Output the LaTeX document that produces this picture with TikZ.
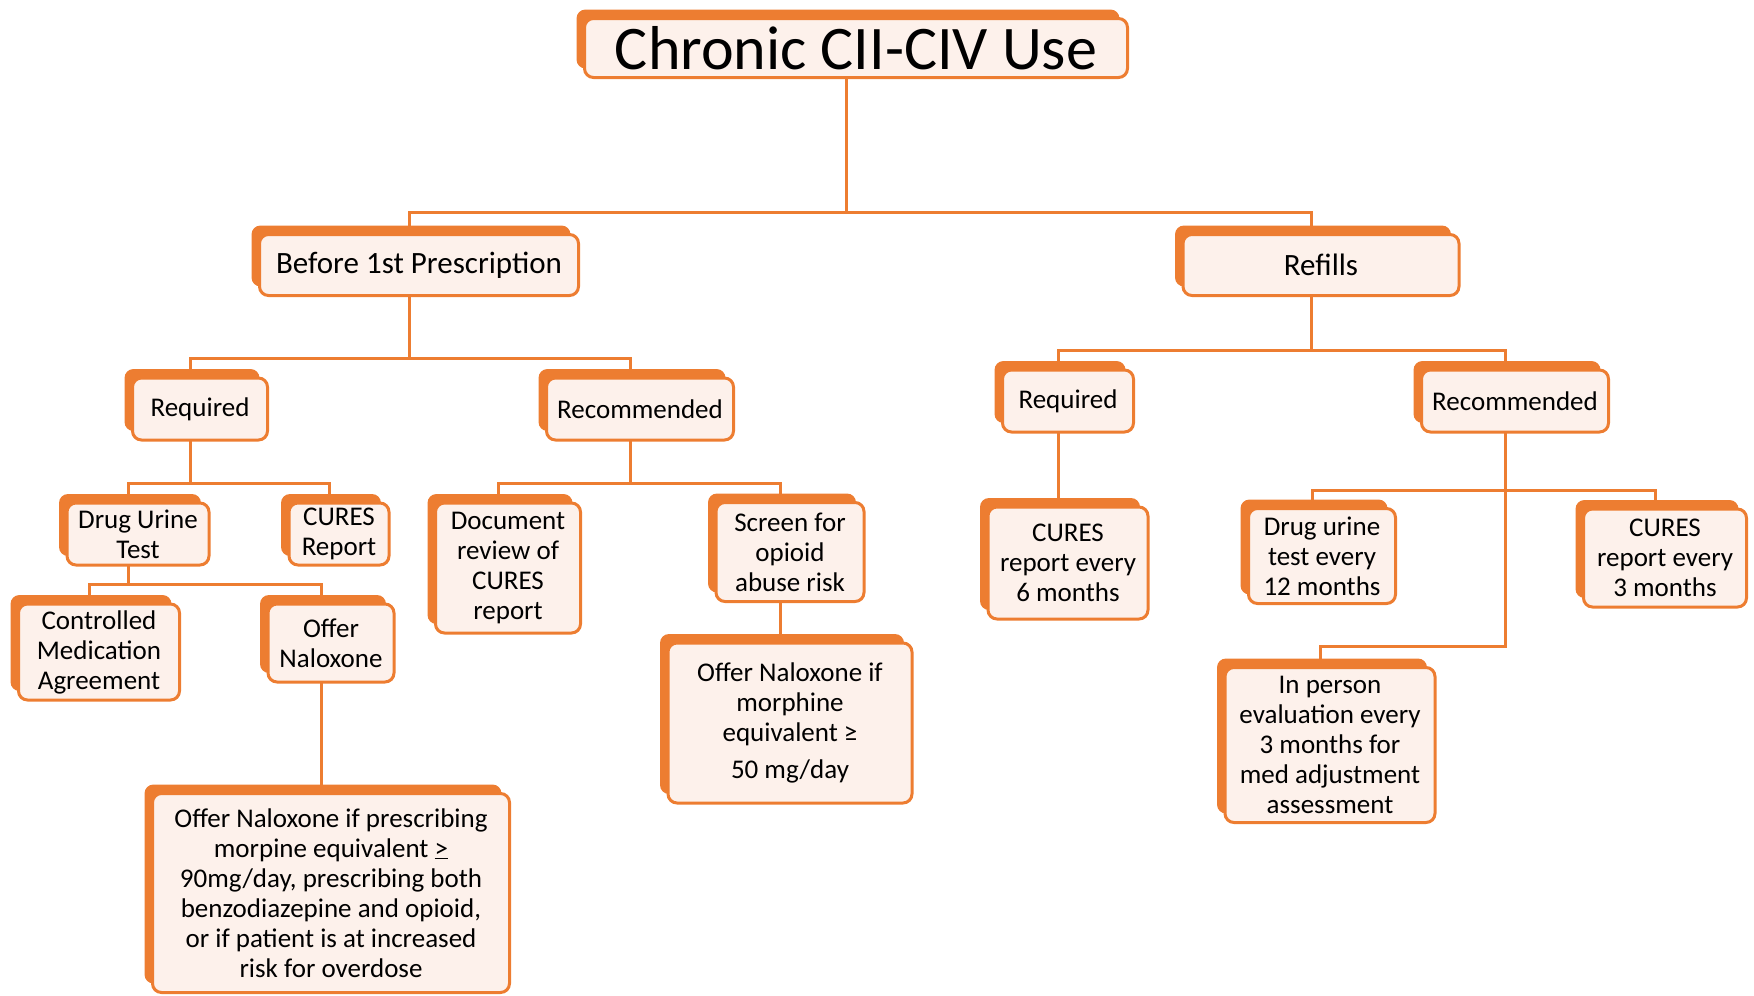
\documentclass[tikz,border=0pt]{standalone}
\usepackage{fontspec}
\setmainfont{Carlito}
\usetikzlibrary{shadows}

\definecolor{boxorange}{HTML}{ED7D31}
\definecolor{boxfill}{HTML}{FDF1EB}

\pgfdeclarelayer{bg}
\pgfsetlayers{bg,main}

\tikzset{
  box/.style={draw=boxorange, line width=3pt, fill=boxfill, rounded corners=9pt,
    align=center, inner sep=3pt, font=\fontsize{27}{30}\selectfont,
    general shadow={fill=boxorange, shadow xshift=-8pt, shadow yshift=9pt}},
  link/.style={draw=boxorange, line width=3pt},
}

\begin{document}
\begin{tikzpicture}[x=1pt, y=-1pt]
    \useasboundingbox (0,0) rectangle (1754,996);

    % top
    \node[box, minimum width=543pt, minimum height=59pt, font=\fontsize{62}{62}\selectfont] (title) at (856,48) {Chronic CII-CIV Use};
    \node[box, minimum width=319pt, minimum height=61pt, font=\fontsize{31}{34}\selectfont] (bef) at (419,265) {Before 1st Prescription};
    \node[box, minimum width=276pt, minimum height=61pt, font=\fontsize{31}{34}\selectfont] (ref) at (1321,265) {Refills};

    % before 1st prescription
    \node[box, minimum width=135pt, minimum height=62pt] (reqL) at (200,409) {Required};
    \node[box, minimum width=187pt, minimum height=62pt] (recL) at (640,409) {Recommended};
    \node[box, minimum width=142pt, minimum height=62pt] (druT) at (138,534) {Drug Urine\\Test};
    \node[box, minimum width=100pt, minimum height=62pt] (cur) at (339,534) {CURES\\Report};
    \node[box, minimum width=161pt, minimum height=96pt] (cma) at (99,652) {Controlled\\Medication\\Agreement};
    \node[box, minimum width=126pt, minimum height=78pt] (naL) at (331,643) {Offer\\Naloxone};
    \node[box, minimum width=357pt, minimum height=199pt] (bigN) at (331,893) {Offer Naloxone if prescribing\\morpine equivalent \underline{>}\\90mg/day, prescribing both\\benzodiazepine and opioid,\\or if patient is at increased\\risk for overdose};
    \node[box, minimum width=145pt, minimum height=130pt] (doc) at (508,568) {Document\\review of\\CURES\\report};
    \node[box, minimum width=148pt, minimum height=99pt] (scr) at (790,552) {Screen for\\opioid\\abuse risk};
    \node[box, minimum width=244pt, minimum height=160pt] (morN) at (790,723) {Offer Naloxone if\\morphine\\equivalent ≥\\[7pt]50 mg/day};

    % refills
    \node[box, minimum width=131pt, minimum height=62pt] (reqR) at (1068,401) {Required};
    \node[box, minimum width=187pt, minimum height=62pt] (recR) at (1515,401) {Recommended};
    \node[box, minimum width=160pt, minimum height=112pt] (c6) at (1068,563) {CURES\\report every\\6 months};
    \node[box, minimum width=147pt, minimum height=95pt] (d12) at (1322,556) {Drug urine\\test every\\12 months};
    \node[box, minimum width=163pt, minimum height=98pt] (c3) at (1665,558) {CURES\\report every\\3 months};
    \node[box, minimum width=210pt, minimum height=155pt] (inp) at (1330,745) {In person\\evaluation every\\3 months for\\med adjustment\\assessment};

    % connectors
    \begin{pgfonlayer}{bg}
    \coordinate (jT) at (846,212);
    \coordinate (jB) at (409,358);
    \coordinate (jR) at (1311,350);
    \coordinate (jRL) at (190,483);
    \coordinate (jD) at (128,584);
    \coordinate (jCL) at (630,483);
    \coordinate (jCR) at (1505,490);
    \coordinate (jI) at (1505,646);

    \draw[link] ([xshift=-10pt]title.center) -- (jT);
    \draw[link] ([xshift=-10pt]bef.center) |- (jT) -| ([xshift=-10pt]ref.center);

    \draw[link] ([xshift=-10pt]bef.center) -- (jB);
    \draw[link] ([xshift=-10pt]reqL.center) |- (jB) -| ([xshift=-10pt]recL.center);
    \draw[link] ([xshift=-10pt]reqL.center) -- (jRL);
    \draw[link] ([xshift=-10pt]druT.center) |- (jRL) -| ([xshift=-10pt]cur.center);
    \draw[link] ([xshift=-10pt]druT.center) -- (jD);
    \draw[link] ([xshift=-10pt]cma.center) |- (jD) -| ([xshift=-10pt]naL.center);
    \draw[link] ([xshift=-10pt]naL.center) -- ([xshift=-10pt]bigN.center);
    \draw[link] ([xshift=-10pt]recL.center) -- (jCL);
    \draw[link] ([xshift=-10pt]doc.center) |- (jCL) -| ([xshift=-10pt]scr.center);
    \draw[link] ([xshift=-10pt]scr.center) -- ([xshift=-10pt]morN.center);

    \draw[link] ([xshift=-10pt]ref.center) -- (jR);
    \draw[link] ([xshift=-10pt]reqR.center) |- (jR) -| ([xshift=-10pt]recR.center);
    \draw[link] ([xshift=-10pt]reqR.center) -- ([xshift=-10pt]c6.center);
    \draw[link] ([xshift=-10pt]recR.center) -- (jI) -| ([xshift=-10pt]inp.center);
    \draw[link] ([xshift=-10pt]d12.center) |- (jCR) -| ([xshift=-10pt]c3.center);
    \end{pgfonlayer}
\end{tikzpicture}
\end{document}
